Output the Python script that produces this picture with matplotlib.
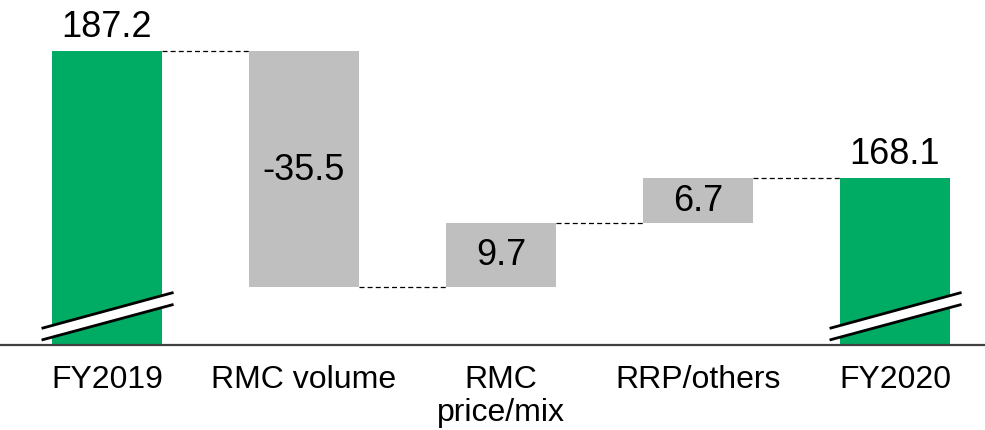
import matplotlib.pyplot as plt
import numpy as np

plt.rcParams["font.family"] = ["Liberation Sans", "DejaVu Sans"]

# EBITDA bridge FY2019 -> FY2020
categories = ["FY2019", "RMC volume", "RMC\nprice/mix", "RRP/others", "FY2020"]
values = [187.2, -35.5, 9.7, 6.7, 168.1]
is_total = [True, False, False, False, True]

GREEN = "#00AC64"
GREY = "#BFBFBF"
bar_w = 0.558
y_floor = 143.0

fig = plt.figure(figsize=(9.85, 4.31), dpi=100)
ax = fig.add_axes([0, 85 / 431, 1, 346 / 431])

# running level for the floating bars
bottoms, heights = [], []
level = 0.0
for v, tot in zip(values, is_total):
    if tot:
        bottoms.append(y_floor)
        heights.append(v - y_floor)
        level = v
    else:
        lo = min(level, level + v)
        bottoms.append(lo)
        heights.append(abs(v))
        level += v

x = np.arange(len(categories))
colors = [GREEN if t else GREY for t in is_total]
ax.bar(x, heights, bottom=bottoms, width=bar_w, color=colors, zorder=2)

# value labels: totals above the bar, deltas centred inside
for xi, v, b, h, tot in zip(x, values, bottoms, heights, is_total):
    if tot:
        ax.annotate(f"{v:.1f}", (xi, b + h), xytext=(0, 5), textcoords="offset points",
                    ha="center", va="bottom", fontsize=26, zorder=4)
    else:
        ax.text(xi, b + h / 2, f"{v:.1f}", ha="center", va="center", fontsize=26, zorder=4)

# dashed connectors between consecutive bars
level = 0.0
for i, (v, tot) in enumerate(zip(values, is_total)):
    level = v if tot else level + v
    if i < len(values) - 1:
        ax.plot([x[i] + bar_w / 2, x[i + 1] - bar_w / 2], [level, level],
                color="black", lw=0.9, ls=(0, (4, 2.5)), zorder=3)

# axis-break marks on the total bars
for xi, tot in zip(x, is_total):
    if not tot:
        continue
    xs = np.array([xi - 0.332, xi + 0.338])
    upper = np.array([145.5, 150.9])
    lower = np.array([143.75, 149.1])
    ax.fill_between(xs, lower, upper, color="white", lw=0, zorder=3)
    ax.plot(xs, upper, color="black", lw=2, zorder=4, solid_capstyle="butt")
    ax.plot(xs, lower, color="black", lw=2, zorder=4, solid_capstyle="butt")

ax.set_xlim(-0.543, 4.457)
ax.set_ylim(y_floor, y_floor + 346 / 6.65)
ax.set_xticks(x)
ax.set_xticklabels(categories, fontsize=23, linespacing=1.12)
ax.tick_params(axis="x", length=0, pad=14)
ax.set_yticks([])
for side in ["top", "left", "right"]:
    ax.spines[side].set_visible(False)
ax.spines["bottom"].set_color("#404040")
ax.spines["bottom"].set_linewidth(1.6)
ax.spines["bottom"].set_zorder(5)

fig.savefig("out.png", dpi=100)
